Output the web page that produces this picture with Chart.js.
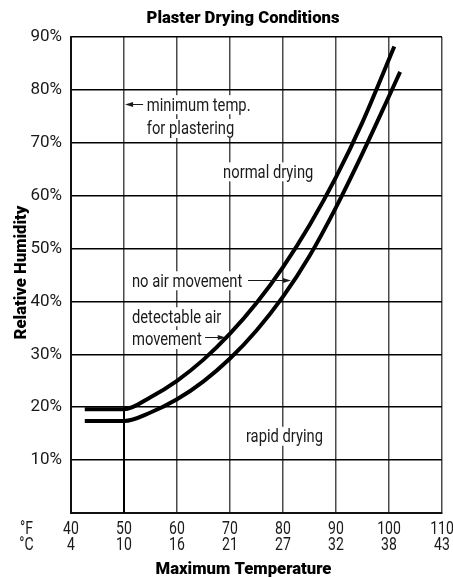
<!DOCTYPE html>
<html>
<head>
<meta charset="utf-8">
<script src="https://cdn.jsdelivr.net/npm/chart.js@4/dist/chart.umd.min.js"></script>
<style>
  html, body { margin: 0; padding: 0; background: #fff; }
  #wrap { width: 453px; height: 577px; }
</style>
</head>
<body>
<div id="wrap"><canvas id="dryChart" width="453" height="577"></canvas></div>
<script>
// temperature ticks (°F with matching °C)
const fahrenheitTicks = [40, 50, 60, 70, 80, 90, 100, 110];
const celsiusTicks = [4, 10, 16, 21, 27, 32, 38, 43];
const humidityTicks = [0, 10, 20, 30, 40, 50, 60, 70, 80, 90];

// "no air movement" curve (°F, % RH)
const noAirTemp = [42.6, 50, 55, 60, 65, 70, 75, 80, 85, 90, 95, 101];
const noAirRH = [19.6, 19.6, 21.9, 25.0, 29.0, 33.9, 39.7, 46.5, 54.4, 63.5, 73.9, 88.2];

// "detectable air movement" curve
const airTemp = [42.6, 50, 55, 60, 65, 70, 75, 80, 85, 90, 95, 100, 102.1];
const airRH = [17.4, 17.4, 19.0, 21.5, 24.9, 29.2, 34.5, 40.9, 48.6, 57.8, 68.0, 78.8, 83.4];

// minimum plastering temperature marker
const minTemp = 50;
const minTempRH = [19.6, 0];

const FONT = "Roboto, 'Liberation Sans', sans-serif";

function toPoints(xs, ys) {
    return xs.map((x, i) => ({ x: x, y: ys[i] }));
}

// draw text squeezed horizontally (the original uses a condensed face)
function narrowText(c, text, x, y, font, sx, align) {
    c.save();
    c.font = font;
    c.textAlign = 'left';
    c.textBaseline = 'alphabetic';
    const w = c.measureText(text).width * sx;
    let left = x;
    if (align === 'center') left = x - w / 2;
    if (align === 'right') left = x - w;
    c.translate(left, y);
    c.scale(sx, 1);
    c.fillText(text, 0, 0);
    c.restore();
    return { left: left, width: w };
}

// text notes, arrows, tick labels and titles
const notesPlugin = {
    id: 'notes',
    afterDatasetsDraw(chart) {
        const c = chart.ctx;
        const xs = chart.scales.x, ys = chart.scales.y;
        const x = v => xs.getPixelForValue(v);
        const y = v => ys.getPixelForValue(v);
        const noteFont = '18px ' + FONT;
        c.save();

        function note(text, tx, ry) {
            c.font = noteFont;
            const w = c.measureText(text).width * 0.82;
            const px = x(tx), py = y(ry);
            c.fillStyle = '#fff';
            c.fillRect(px - 2, py - 9, w + 4, 19);
            c.fillStyle = '#1a1a1a';
            narrowText(c, text, px, py + 6.5, noteFont, 0.82, 'left');
        }
        function arrow(t1, ry, t2) {
            const x1 = x(t1), x2 = x(t2), py = Math.round(y(ry)) + 0.5;
            const dir = x2 > x1 ? 1 : -1;
            c.strokeStyle = '#1a1a1a';
            c.lineWidth = 1;
            c.beginPath();
            c.moveTo(x1, py);
            c.lineTo(x2 - dir * 4, py);
            c.stroke();
            c.fillStyle = '#1a1a1a';
            c.beginPath();
            c.moveTo(x2, py);
            c.lineTo(x2 - dir * 8, py - 2.5);
            c.lineTo(x2 - dir * 8, py + 2.5);
            c.closePath();
            c.fill();
        }

        note('minimum temp.', 54.3, 77.3);
        note('for plastering', 54.3, 72.8);
        arrow(53.6, 77.3, 50.2);

        note('normal drying', 68.7, 64.6);
        note('no air movement', 51.5, 44.0);
        arrow(73.4, 44.0, 81.5);
        note('detectable air', 51.5, 37.2);
        note('movement', 51.5, 32.9);
        arrow(65.3, 33.3, 69.2);
        note('rapid drying', 73.0, 14.6);

        // two rows of tick labels: °F and °C
        c.fillStyle = '#1a1a1a';
        const tickFont = '18px ' + FONT;
        fahrenheitTicks.forEach((v, i) => {
            narrowText(c, String(v), x(v), 533.5, tickFont, 0.78, 'center');
            narrowText(c, String(celsiusTicks[i]), x(v), 550, tickFont, 0.78, 'center');
        });
        narrowText(c, '°F', 26.5, 533.5, tickFont, 0.78, 'center');
        narrowText(c, '°C', 26.5, 550, tickFont, 0.78, 'center');

        // titles
        const titleFont = '900 17px ' + FONT;
        c.fillStyle = '#000';
        narrowText(c, 'Plaster Drying Conditions', 243, 22.7, titleFont, 0.98, 'center');
        narrowText(c, 'Maximum Temperature', 243.5, 574, titleFont, 0.98, 'center');
        c.translate(26, 272.5);
        c.rotate(-Math.PI / 2);
        narrowText(c, 'Relative Humidity', 0, 0, titleFont, 0.98, 'center');
        c.restore();
    }
};

const ctx = document.getElementById('dryChart').getContext('2d');

let dryChart = new Chart(ctx, {
    type: 'scatter',
    data: {
        datasets: [{
            label: 'no air movement',
            data: toPoints(noAirTemp, noAirRH),
            showLine: true,
            borderColor: '#000',
            borderWidth: 4,
            pointRadius: 0,
            cubicInterpolationMode: 'monotone'
        }, {
            label: 'detectable air movement',
            data: toPoints(airTemp, airRH),
            showLine: true,
            borderColor: '#000',
            borderWidth: 4,
            pointRadius: 0,
            cubicInterpolationMode: 'monotone'
        }, {
            label: 'minimum temp.',
            data: toPoints([minTemp, minTemp], minTempRH),
            showLine: true,
            borderColor: '#000',
            borderWidth: 2,
            pointRadius: 0
        }]
    },
    options: {
        responsive: false,
        animation: false,
        layout: {
            padding: { top: 37, right: 11, left: 0, bottom: 0 }
        },
        plugins: {
            legend: { display: false },
            tooltip: { enabled: false }
        },
        scales: {
            x: {
                type: 'linear',
                min: 40,
                max: 110,
                afterFit: function(scale) { scale.height = 64; },
                afterBuildTicks: function(scale) {
                    scale.ticks = fahrenheitTicks.map(v => ({ value: v }));
                },
                grid: {
                    color: '#4a4a4a',
                    lineWidth: 1.5,
                    drawTicks: false
                },
                border: { color: '#111', width: 2 },
                ticks: { display: false }
            },
            y: {
                min: 0,
                max: 90,
                afterFit: function(scale) { scale.width = 71; },
                afterBuildTicks: function(scale) {
                    scale.ticks = humidityTicks.map(v => ({ value: v }));
                },
                grid: {
                    color: '#000',
                    lineWidth: 1.5,
                    drawTicks: false
                },
                border: { color: '#111', width: 2 },
                ticks: {
                    padding: 9,
                    color: '#1a1a1a',
                    font: { family: FONT, size: 17 },
                    callback: function(value) {
                        return value === 0 ? '' : value + '%';
                    }
                }
            }
        }
    },
    plugins: [notesPlugin]
});
</script>
</body>
</html>
